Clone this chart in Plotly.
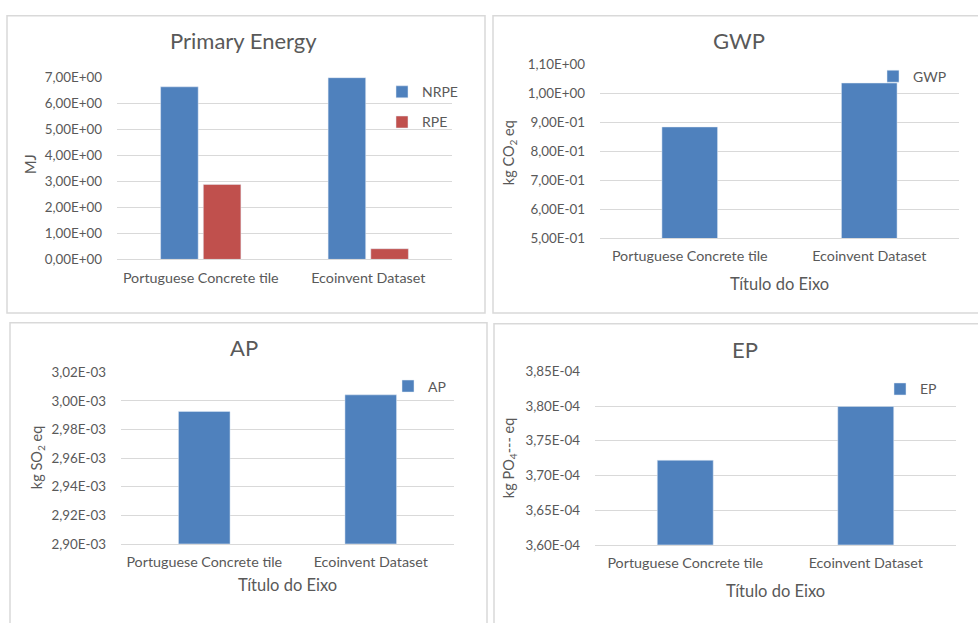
import plotly.graph_objects as go

W, H = 978, 623

categories = ["Portuguese Concrete tile", "Ecoinvent Dataset"]

# Primary energy (MJ)
nrpe = [6.63, 6.98]
rpe = [2.88, 0.41]
# Global warming potential (kg CO2 eq)
gwp = [0.884, 1.036]
# Acidification potential (kg SO2 eq)
ap = [2.9927e-3, 3.0043e-3]
# Eutrophication potential (kg PO4 eq)
ep = [3.722e-4, 3.7995e-4]

pe_ticks = [0, 1, 2, 3, 4, 5, 6, 7]
gwp_ticks = [0.5, 0.6, 0.7, 0.8, 0.9, 1.0, 1.1]
ap_ticks = [2.90e-3, 2.92e-3, 2.94e-3, 2.96e-3, 2.98e-3, 3.00e-3, 3.02e-3]
ep_ticks = [3.60e-4, 3.65e-4, 3.70e-4, 3.75e-4, 3.80e-4, 3.85e-4]

BLUE = "#4f81bd"
RED = "#c0504d"
TXT = "#595959"
GRID = "#d9d9d9"
FONT = "Lato"


def sci_comma(v):
    # Excel-style scientific label with decimal comma, e.g. 7,00E+00
    return f"{v:.2E}".replace(".", ",")


def px_x(x):
    return x / W


def px_y(y):
    return 1 - y / H


fig = go.Figure()

fig.add_trace(go.Bar(x=categories, y=nrpe, name="NRPE", marker_color=BLUE,
                     xaxis="x", yaxis="y", legend="legend", legendgroup="a"))
fig.add_trace(go.Bar(x=categories, y=rpe, name="RPE", marker_color=RED,
                     xaxis="x", yaxis="y", legend="legend", legendgroup="b"))
fig.add_trace(go.Bar(x=categories, y=gwp, name="GWP", marker_color=BLUE,
                     xaxis="x2", yaxis="y2", legend="legend2", width=0.31))
fig.add_trace(go.Bar(x=categories, y=ap, name="AP", marker_color=BLUE,
                     xaxis="x3", yaxis="y3", legend="legend3", width=0.31))
fig.add_trace(go.Bar(x=categories, y=ep, name="EP", marker_color=BLUE,
                     xaxis="x4", yaxis="y4", legend="legend4", width=0.31))

# plot-area boxes in pixels: (left, right, top, bottom)
areas = {
    "1": (117, 452, 71, 258),
    "2": (600, 959, 58, 236),
    "3": (121, 454, 374, 550),
    "4": (595, 956, 373, 551),
}
ticks = {"1": pe_ticks, "2": gwp_ticks, "3": ap_ticks, "4": ep_ticks}

layout = dict(
    width=W, height=H,
    margin=dict(l=0, r=0, t=0, b=0),
    paper_bgcolor="white", plot_bgcolor="white",
    font=dict(family=FONT, color=TXT, size=14),
    barmode="group", bargap=0.49, bargroupgap=0.12,
    showlegend=True,
)

for k, (l, r, t, b) in areas.items():
    xa = "xaxis" if k == "1" else f"xaxis{k}"
    ya = "yaxis" if k == "1" else f"yaxis{k}"
    tv = ticks[k]
    layout[xa] = dict(
        domain=[px_x(l), px_x(r)], anchor="y" if k == "1" else f"y{k}",
        showgrid=False, showline=True, linecolor=GRID, linewidth=1,
        ticks="", tickfont=dict(size=14.3, color=TXT), ticklabelstandoff=5,
        fixedrange=True,
    )
    layout[ya] = dict(
        domain=[px_y(b), px_y(t)], anchor="x" if k == "1" else f"x{k}",
        range=[tv[0], tv[-1]], tickvals=tv, ticktext=[sci_comma(v) for v in tv],
        showgrid=True, gridcolor=GRID, gridwidth=1, zeroline=False,
        showline=False, ticks="", tickfont=dict(size=13.4, color=TXT),
        ticklabelstandoff=14,
        fixedrange=True,
    )

fig.update_layout(**layout)

# legends
leg_font = dict(size=14, color=TXT)
fig.update_layout(
    legend=dict(x=px_x(382), y=px_y(70), xanchor="left", yanchor="top",
                tracegroupgap=9, font=leg_font,
                bgcolor="rgba(0,0,0,0)", itemwidth=30),
    legend2=dict(x=px_x(873), y=px_y(54), xanchor="left", yanchor="top",
                 font=leg_font, bgcolor="rgba(0,0,0,0)", itemwidth=30),
    legend3=dict(x=px_x(388), y=px_y(372), xanchor="left", yanchor="top",
                 font=leg_font, bgcolor="rgba(0,0,0,0)", itemwidth=30),
    legend4=dict(x=px_x(880), y=px_y(375), xanchor="left", yanchor="top",
                 font=leg_font, bgcolor="rgba(0,0,0,0)", itemwidth=30),
)


def label(text, cx, cy, size, angle=0):
    fig.add_annotation(text=text, x=px_x(cx), y=px_y(cy), xref="paper", yref="paper",
                       xanchor="center", yanchor="middle", showarrow=False,
                       textangle=angle, font=dict(size=size, color=TXT, family=FONT))


# panel titles
for text, cx, cy in [("Primary Energy", 243, 33), ("GWP", 739, 33),
                     ("AP", 244, 348), ("EP", 745, 351)]:
    label(text, cx, cy, 22)

# value-axis titles
for text, cx, cy in [("MJ", 31, 160),
                     ("kg CO<sub>2</sub> eq", 509, 148),
                     ("kg SO<sub>2</sub> eq", 37, 462),
                     ("kg PO<sub>4</sub>--- eq", 509, 462)]:
    label(text, cx, cy, 14.5, angle=-90)

# category-axis titles
for cx, cy in [(779, 283), (287, 592), (775, 598)]:
    label("Título do Eixo", cx, cy, 16.5)

# chart-area frames
frames = [(7, 485, 8, 313), (493, 990, 8, 313), (10, 487, 323, 640), (494, 990, 324, 640)]
for l, r, t, b in frames:
    fig.add_shape(type="rect", xref="paper", yref="paper",
                  x0=px_x(l), x1=px_x(r), y0=px_y(b), y1=px_y(t),
                  line=dict(color=GRID, width=1.5), fillcolor="rgba(0,0,0,0)",
                  layer="below")

fig.write_html("out.html")
